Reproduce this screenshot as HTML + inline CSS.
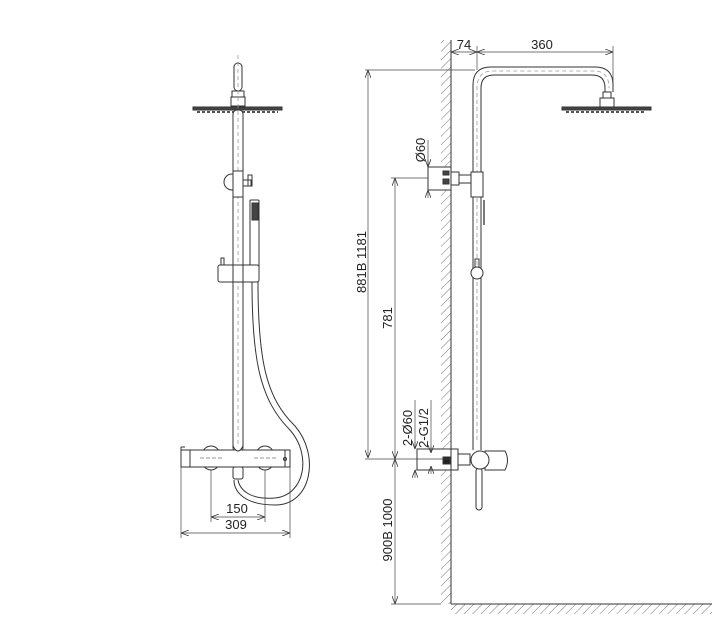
<!DOCTYPE html>
<html><head><meta charset="utf-8"><style>
html,body{margin:0;padding:0;background:#fff;}
svg{display:block;}
text{font-family:"Liberation Sans",sans-serif;fill:#222;}
</style></head><body>
<svg width="712" height="633" viewBox="0 0 712 633" xmlns="http://www.w3.org/2000/svg">
<defs>
<pattern id="hatch" width="6" height="6" patternUnits="userSpaceOnUse" patternTransform="rotate(45)">
<line x1="0" y1="0" x2="0" y2="6" stroke="#555" stroke-width="0.8"/>
</pattern>
<marker id="ar" markerWidth="8" markerHeight="6" refX="8" refY="3" orient="auto-start-reverse" markerUnits="userSpaceOnUse">
<path d="M0,0 L8,3 L0,6" fill="none" stroke="#333" stroke-width="0.8"/>
</marker>
</defs>
<g fill="none" stroke="#333" stroke-width="1">
<!-- LEFT VIEW -->
<rect x="234" y="63" width="8" height="28" rx="4" fill="#fff"/>
<rect x="232" y="91" width="12" height="6" fill="#fff"/>
<rect x="231" y="97" width="14" height="9" fill="#fff"/>
<rect x="193" y="107" width="89" height="3" fill="#444"/>
<line x1="197" y1="112" x2="278" y2="112" stroke-dasharray="3,2" stroke-width="2" stroke="#555"/>
<rect x="233" y="110" width="10" height="342" rx="4" fill="#fff"/>
<line x1="238" y1="55" x2="238" y2="450" stroke-dasharray="4,3" stroke="#999" stroke-width="0.8"/>
<circle cx="232" cy="182" r="8" fill="#fff"/>
<rect x="233" y="171" width="10" height="26" fill="#fff"/>
<rect x="243" y="180" width="8" height="6"/>
<rect x="248" y="175" width="4" height="11"/>
<!-- hand shower -->
<rect x="250" y="200" width="9" height="70" rx="1" fill="#fff"/>
<rect x="252" y="203" width="6" height="17" fill="#444"/>
<!-- slide bracket -->
<rect x="221" y="258" width="3" height="7"/>
<rect x="218" y="265" width="41" height="17" rx="2" fill="#fff"/>
<line x1="233" y1="265" x2="233" y2="282"/><line x1="243" y1="265" x2="243" y2="282"/>
<!-- hose -->
<path d="M252,282 C252,360 260,400 290,430 C312,455 305,495 275,498 C250,500 240,490 238,480"/>
<path d="M258,282 C258,360 266,398 295,426 C320,455 312,505 275,505 C245,505 234,492 234,480"/>
<!-- mixer -->
<ellipse cx="211" cy="458" rx="10" ry="12" fill="#fff"/>
<ellipse cx="265" cy="458" rx="10" ry="12" fill="#fff"/>
<rect x="181" y="450" width="109" height="17" fill="#fff"/>
<line x1="190" y1="450" x2="190" y2="467"/>
<line x1="285" y1="450" x2="285" y2="467"/>
<circle cx="285" cy="459" r="1.5"/>
<line x1="181" y1="447" x2="181" y2="450"/><line x1="181" y1="447" x2="185" y2="447"/>
<path d="M233,446 Q238,456 243,446" fill="#fff"/>
<rect x="233" y="467" width="10" height="12" rx="2" fill="#fff"/>
<line x1="200" y1="458" x2="222" y2="458" stroke-dasharray="4,2" stroke="#777" stroke-width="0.8"/>
<line x1="254" y1="458" x2="276" y2="458" stroke-dasharray="4,2" stroke="#777" stroke-width="0.8"/>
<!-- dims left -->
<g stroke-width="0.7" stroke="#444">
<line x1="211" y1="470" x2="211" y2="522"/><line x1="265" y1="470" x2="265" y2="522"/>
<line x1="181" y1="467" x2="181" y2="538"/><line x1="290" y1="467" x2="290" y2="538"/>
<line x1="211" y1="517" x2="265" y2="517" marker-start="url(#ar)" marker-end="url(#ar)"/>
<line x1="181" y1="533" x2="290" y2="533" marker-start="url(#ar)" marker-end="url(#ar)"/>
</g>

<!-- RIGHT VIEW wall -->
<rect x="441" y="40" width="10" height="564" fill="url(#hatch)" stroke="none"/>
<rect x="451" y="604" width="261" height="10" fill="url(#hatch)" stroke="none"/>
<line x1="451" y1="40" x2="451" y2="604"/>
<line x1="451" y1="604" x2="712" y2="604"/>
<!-- pipe -->
<path d="M473,450 L473,85 Q473,67 491,67 L595,67 Q613,67 613,85 L613,92"/>
<path d="M481,450 L481,88 Q481,75 494,75 L592,75 Q605,75 605,88 L605,92"/>
<path d="M477,440 L477,88 Q477,71 493,71 L594,71 Q609,71 609,88" stroke-dasharray="4,3" stroke="#999" stroke-width="0.8"/>
<rect x="603" y="92" width="8" height="6" fill="#fff"/>
<rect x="600" y="98" width="14" height="9" fill="#fff"/>
<rect x="562" y="107" width="89" height="3" fill="#444"/>
<line x1="566" y1="112" x2="646" y2="112" stroke-dasharray="3,2" stroke-width="2" stroke="#555"/>
<!-- top bracket -->
<rect x="428" y="167" width="23" height="23" fill="#fff"/>
<rect x="443" y="171" width="6" height="4" fill="#444"/>
<rect x="443" y="179" width="6" height="5" fill="#444"/>
<rect x="451" y="172" width="8" height="13" fill="#fff"/>
<rect x="459" y="175" width="14" height="8" fill="#fff"/>
<rect x="471" y="172" width="12" height="25" fill="#fff"/>
<line x1="484" y1="200" x2="484" y2="225" stroke-width="1.3"/>
<rect x="475" y="259" width="4" height="8"/>
<circle cx="477" cy="273" r="6" fill="#fff"/>
<!-- bottom mixer -->
<rect x="417" y="449" width="34" height="21" fill="#fff"/>
<rect x="443" y="457" width="7" height="7" fill="#222"/>
<rect x="451" y="449" width="7" height="21" fill="#fff"/>
<rect x="458" y="454" width="12" height="11" fill="#fff"/>
<path d="M485,451 L505,451 Q510,460 505,470 L485,470 Z" fill="#fff"/>
<rect x="476" y="468" width="6" height="42" rx="3" fill="#fff"/>
<circle cx="480" cy="460" r="9" fill="#fff"/>
<!-- dims right -->
<g stroke-width="0.7" stroke="#444">
<line x1="477" y1="46" x2="477" y2="70"/><line x1="613" y1="46" x2="613" y2="85"/>
<line x1="451" y1="52" x2="477" y2="52" marker-start="url(#ar)" marker-end="url(#ar)"/>
<line x1="477" y1="52" x2="613" y2="52" marker-start="url(#ar)" marker-end="url(#ar)"/>
<line x1="365" y1="70" x2="475" y2="70"/>
<line x1="368" y1="70" x2="368" y2="458" marker-start="url(#ar)" marker-end="url(#ar)"/>
<line x1="365" y1="459" x2="450" y2="459"/>
<line x1="391" y1="178" x2="428" y2="178"/>
<line x1="395" y1="178" x2="395" y2="459" marker-start="url(#ar)" marker-end="url(#ar)"/>
<line x1="395" y1="459" x2="395" y2="604" marker-start="url(#ar)" marker-end="url(#ar)"/>
<line x1="391" y1="604" x2="441" y2="604"/>
<line x1="428" y1="140" x2="428" y2="167"/>
<line x1="428" y1="160" x2="428" y2="167" marker-end="url(#ar)"/>
<line x1="428" y1="198" x2="428" y2="190" marker-end="url(#ar)"/>
<line x1="415" y1="400" x2="415" y2="449"/>
<line x1="415" y1="442" x2="415" y2="449" marker-end="url(#ar)"/>
<line x1="415" y1="478" x2="415" y2="470" marker-end="url(#ar)"/>
<line x1="431" y1="400" x2="431" y2="453"/>
<line x1="431" y1="446" x2="431" y2="453" marker-end="url(#ar)"/>
<line x1="431" y1="474" x2="431" y2="466" marker-end="url(#ar)"/>
<line x1="415" y1="470" x2="417" y2="470"/>
</g>
</g>
<text x="237" y="513" text-anchor="middle" font-size="13">150</text>
<text x="236" y="529" text-anchor="middle" font-size="13">309</text>
<text x="464" y="49" text-anchor="middle" font-size="13">74</text>
<text x="542" y="49" text-anchor="middle" font-size="13">360</text>
<text transform="translate(366,262) rotate(-90)" text-anchor="middle" font-size="13">881B 1181</text>
<text transform="translate(392,318) rotate(-90)" text-anchor="middle" font-size="13">781</text>
<text transform="translate(425,150) rotate(-90)" text-anchor="middle" font-size="13">Ø60</text>
<text transform="translate(412,428) rotate(-90)" text-anchor="middle" font-size="13">2-Ø60</text>
<text transform="translate(428,428) rotate(-90)" text-anchor="middle" font-size="13">2-G1/2</text>
<text transform="translate(392,530) rotate(-90)" text-anchor="middle" font-size="13">900B 1000</text>
</svg>
</body></html>
